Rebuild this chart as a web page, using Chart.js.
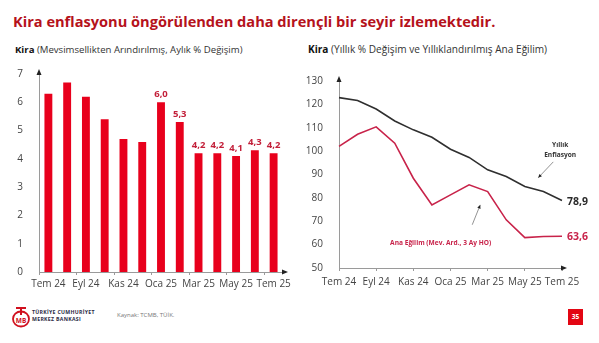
<!DOCTYPE html>
<html>
<head>
<meta charset="utf-8">
<script src="https://cdn.jsdelivr.net/npm/chart.js@4"></script>
<style>
  html, body { margin: 0; padding: 0; background: #fff; }
  body { width: 599px; height: 343px; position: relative; overflow: hidden; font-family: "Open Sans", sans-serif; }
  .title { position: absolute; left: 13px; top: 11px; font-size: 14.6px; font-weight: 700; color: #b5121b; white-space: nowrap; }
  .sub { position: absolute; top: 43px; font-size: 9.6px; color: #333; white-space: nowrap; }
  .sub b { font-weight: 700; color: #111; }
  #left { position: absolute; left: 0; top: 60px; }
  #right { position: absolute; left: 300px; top: 60px; }
  .bank { position: absolute; left: 32px; top: 309px; font-size: 5.2px; font-weight: 700; color: #2b2b45; line-height: 6.5px; letter-spacing: 0.3px; }
  .source { position: absolute; left: 117px; top: 311px; font-size: 6px; color: #777; }
  .page { position: absolute; left: 568px; top: 309px; width: 15px; height: 16px; background: #e30613; color: #fff; font-size: 6.5px; font-weight: 700; text-align: center; line-height: 16px; }
</style>
</head>
<body>
<div class="title">Kira enflasyonu öngörülenden daha dirençli bir seyir izlemektedir.</div>
<div class="sub" style="left:15px"><b>Kira</b> (Mevsimsellikten Arındırılmış, Aylık % Değişim)</div>
<div class="sub" style="left:308px;font-size:10.1px;top:42px"><b>Kira</b> (Yıllık % Değişim ve Yıllıklandırılmış Ana Eğilim)</div>
<canvas id="left" width="300" height="235"></canvas>
<canvas id="right" width="299" height="235"></canvas>
<svg style="position:absolute;left:11px;top:306px" width="20" height="22" viewBox="0 0 20 22">
  <ellipse cx="10" cy="13" rx="8" ry="7.5" fill="none" stroke="#d0101e" stroke-width="1.8"/>
  <rect x="5" y="1" width="10" height="2" fill="#d0101e"/>
  <rect x="9" y="1" width="2" height="8" fill="#d0101e"/>
  <text x="10" y="16.5" font-size="6.5" font-weight="700" fill="#d0101e" text-anchor="middle" font-family="Open Sans">MB</text>
</svg>
<div class="bank">TÜRKİYE CUMHURİYET<br>MERKEZ BANKASI</div>
<div class="source">Kaynak: TCMB, TÜİK.</div>
<div class="page">35</div>
<script>
// months Tem 24 .. Tem 25
const months = ['Tem 24', 'Ağu 24', 'Eyl 24', 'Eki 24', 'Kas 24', 'Ara 24', 'Oca 25',
  'Şub 25', 'Mar 25', 'Nis 25', 'May 25', 'Haz 25', 'Tem 25'];
const monthlyRent = [6.3, 6.7, 6.2, 5.4, 4.7, 4.6, 6.0, 5.3, 4.2, 4.2, 4.1, 4.3, 4.2];
const labelFrom = 6; // bars from Oca 25 carry value labels
const annualRent = [122.9, 121.7, 118.0, 112.9, 109.1, 105.9, 100.8, 97.3, 92.0, 89.1, 84.9, 82.7, 78.9];
const coreTrend = [102.0, 107.2, 110.4, 103.4, 88.4, 77.0, 81.3, 85.6, 82.7, 70.6, 63.0, 63.5, 63.6];

const axisColor = '#9a9a9a';
const tickFont = { family: 'Open Sans', size: 10 };
const fmt = v => v.toFixed(1).replace('.', ',');

// small arrow heads at the ends of both axes
const axisArrows = {
  id: 'axisArrows',
  afterDraw(chart) {
    const { ctx, chartArea: a } = chart;
    ctx.save();
    ctx.fillStyle = '#222';
    ctx.beginPath();
    ctx.moveTo(a.left, a.top - 5); ctx.lineTo(a.left - 2.5, a.top + 1); ctx.lineTo(a.left + 2.5, a.top + 1);
    ctx.fill();
    ctx.beginPath();
    ctx.moveTo(a.right + 5, a.bottom); ctx.lineTo(a.right - 1, a.bottom - 2.5); ctx.lineTo(a.right - 1, a.bottom + 2.5);
    ctx.fill();
    ctx.restore();
  }
};

const barLabels = {
  id: 'barLabels',
  afterDatasetsDraw(chart) {
    const { ctx } = chart;
    const meta = chart.getDatasetMeta(0);
    ctx.save();
    ctx.font = '700 9.5px "Open Sans"';
    ctx.fillStyle = '#c3203a';
    ctx.textAlign = 'center';
    ctx.textBaseline = 'bottom';
    meta.data.forEach((bar, i) => {
      if (i >= labelFrom) ctx.fillText(fmt(monthlyRent[i]), bar.x, bar.y - 3);
    });
    ctx.restore();
  }
};

function xAxis(fitHeight, pad) {
  return {
    offset: true,
    border: { display: true, color: axisColor, width: 1 },
    grid: { drawOnChartArea: false, drawTicks: true, tickLength: 3,
      color: c => (c.index % 2 === 0 ? axisColor : 'rgba(0,0,0,0)') },
    ticks: { autoSkip: false, maxRotation: 0, padding: pad, color: '#444', font: tickFont,
      callback: (v, i) => (i % 2 === 0 ? months[i] : '') },
    afterFit: s => { s.height = fitHeight; }
  };
}

new Chart(document.getElementById('left'), {
  type: 'bar',
  data: {
    labels: months,
    datasets: [{ data: monthlyRent, backgroundColor: '#e8001c', barPercentage: 0.42, categoryPercentage: 1 }]
  },
  options: {
    responsive: false,
    animation: false,
    layout: { padding: { top: 14, right: 17, left: 0, bottom: 0 } },
    plugins: { legend: { display: false }, tooltip: { enabled: false } },
    scales: {
      x: xAxis(23, 3),
      y: {
        min: 0, max: 7,
        border: { display: true, color: axisColor },
        grid: { display: false },
        ticks: { stepSize: 1, padding: 8, color: '#444', font: tickFont },
        afterFit: s => { s.width = 39; }
      }
    }
  },
  plugins: [axisArrows, barLabels]
});

// value tags and notes on the right chart
const lineNotes = {
  id: 'lineNotes',
  afterDraw(chart) {
    const { ctx, scales: { x, y } } = chart;
    const last = months.length - 1;
    ctx.save();
    ctx.font = '700 10.5px "Open Sans"';
    ctx.textBaseline = 'middle';
    ctx.fillStyle = '#2a2a2a';
    ctx.fillText(fmt(annualRent[last]), x.getPixelForValue(last) + 5, y.getPixelForValue(annualRent[last]) + 2);
    ctx.fillStyle = '#c8234a';
    ctx.fillText(fmt(coreTrend[last]), x.getPixelForValue(last) + 5, y.getPixelForValue(coreTrend[last]) + 1);

    ctx.font = '700 6.6px "Open Sans"';
    ctx.textAlign = 'center';
    ctx.fillStyle = '#333';
    ctx.fillText('Yıllık', x.getPixelForValue(11.9), y.getPixelForValue(102.7));
    ctx.fillText('Enflasyon', x.getPixelForValue(11.9), y.getPixelForValue(98.4));
    ctx.textAlign = 'left';
    ctx.fillStyle = '#c8234a';
    ctx.fillText('Ana Eğilim (Mev. Ard., 3 Ay HO)', x.getPixelForValue(2.75), y.getPixelForValue(60.8));

    const arrow = (x0, y0, x1, y1) => {
      const px0 = x.getPixelForValue(x0), py0 = y.getPixelForValue(y0);
      const px1 = x.getPixelForValue(x1), py1 = y.getPixelForValue(y1);
      const ang = Math.atan2(py1 - py0, px1 - px0);
      ctx.strokeStyle = '#777';
      ctx.fillStyle = '#222';
      ctx.lineWidth = 0.8;
      ctx.beginPath(); ctx.moveTo(px0, py0); ctx.lineTo(px1, py1); ctx.stroke();
      ctx.beginPath();
      ctx.moveTo(px1, py1);
      ctx.lineTo(px1 - 4 * Math.cos(ang - 0.45), py1 - 4 * Math.sin(ang - 0.45));
      ctx.lineTo(px1 - 4 * Math.cos(ang + 0.45), py1 - 4 * Math.sin(ang + 0.45));
      ctx.fill();
    };
    arrow(11.53, 95.4, 10.72, 88.6);
    arrow(7.17, 68.5, 7.6, 77.0);
    ctx.restore();
  }
};

new Chart(document.getElementById('right'), {
  type: 'line',
  data: {
    labels: months,
    datasets: [
      { data: annualRent, borderColor: '#2f2f2f', borderWidth: 1.6, pointRadius: 0, tension: 0 },
      { data: coreTrend, borderColor: '#c8234a', borderWidth: 1.6, pointRadius: 0, tension: 0 }
    ]
  },
  options: {
    responsive: false,
    animation: false,
    layout: { padding: { top: 21, right: 37, left: 0, bottom: 0 } },
    plugins: { legend: { display: false }, tooltip: { enabled: false } },
    scales: {
      x: Object.assign(xAxis(27, 5), { offset: false }),
      y: {
        min: 50, max: 130,
        border: { display: true, color: axisColor },
        grid: { display: false },
        ticks: { stepSize: 10, padding: 8, color: '#444', font: tickFont },
        afterFit: s => { s.width = 39; }
      }
    }
  },
  plugins: [axisArrows, lineNotes]
});
</script>
</body>
</html>
